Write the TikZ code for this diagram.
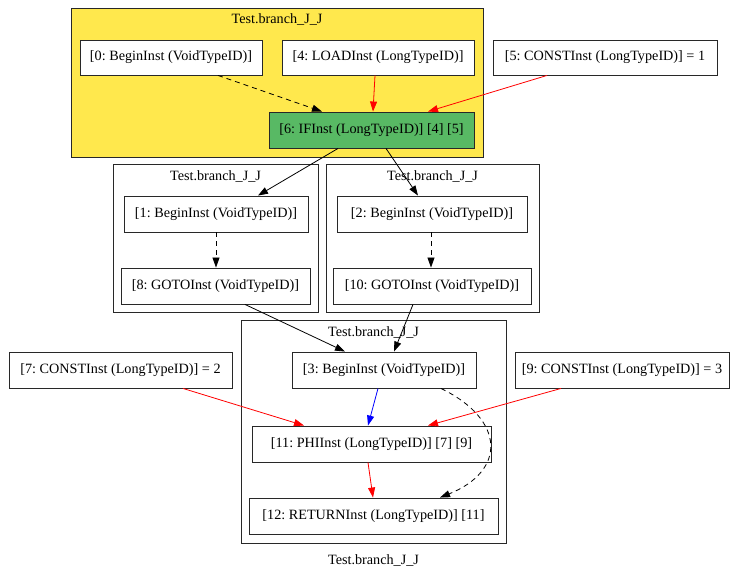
\documentclass[tikz,border=0pt]{standalone}
\usepackage{fontspec}
\setmainfont{Liberation Serif}
\frenchspacing
\usetikzlibrary{arrows.meta}
\definecolor{clyellow}{RGB}{255,232,77}
\definecolor{ifgreen}{RGB}{88,185,100}
\definecolor{edgered}{RGB}{255,0,0}
\definecolor{edgeblue}{RGB}{0,0,255}
\definecolor{bord}{RGB}{40,40,40}
\begin{document}
\begin{tikzpicture}[x=1pt,y=-1pt,
  inst/.style={draw=bord,line width=0.9pt,fill=white,minimum height=36pt,inner sep=0pt,
    font=\fontsize{14.2}{16}\selectfont\frenchspacing},
  clus/.style={draw=bord,line width=0.9pt},
  clabel/.style={font=\fontsize{14.2}{16}\selectfont,inner sep=0pt},
  arr/.style={line width=0.8pt,-{Triangle[length=10pt,width=7pt]}},
  dep/.style={arr,dashed,dash pattern=on 5pt off 4pt},
]
\useasboundingbox (0,0) rectangle (737,567);
% clusters
\draw[clus,fill=clyellow] (71,8) rectangle (483,157);
\node[clabel] (c1) at (277,19) {Test.branch\_J\_J};
\draw[clus] (113,164) rectangle (318,312);
\node[clabel] (c2) at (215.5,176) {Test.branch\_J\_J};
\draw[clus] (326,164) rectangle (539,312);
\node[clabel] (c3) at (432.5,176) {Test.branch\_J\_J};
\draw[clus] (241,320) rectangle (506,543);
\node[clabel] (c4) at (373.5,332) {Test.branch\_J\_J};
\node[clabel] (glabel) at (373.5,560) {Test.branch\_J\_J};
% nodes
\node[inst,minimum width=182pt,minimum height=35pt] (n0) at (171,57.5) {[0: BeginInst (VoidTypeID)]};
\node[inst,minimum width=192pt,minimum height=35pt] (n4) at (378,57.5) {[4: LOADInst (LongTypeID)]};
\node[inst,minimum width=224pt,minimum height=35pt] (n5) at (605,57.5) {[5: CONSTInst (LongTypeID)] = 1};
\node[inst,fill=ifgreen,minimum width=205pt] (n6) at (371.5,130) {[6: IFInst (LongTypeID)] [4] [5]};
\node[inst,minimum width=184pt] (n1) at (216,214) {[1: BeginInst (VoidTypeID)]};
\node[inst,minimum width=189pt] (n8) at (215.5,286) {[8: GOTOInst (VoidTypeID)]};
\node[inst,minimum width=190pt] (n2) at (432,214) {[2: BeginInst (VoidTypeID)]};
\node[inst,minimum width=198pt] (n10) at (432,286) {[10: GOTOInst (VoidTypeID)]};
\node[inst,minimum width=184pt] (n3) at (384,370) {[3: BeginInst (VoidTypeID)]};
\node[inst,minimum width=223pt] (n7) at (120.5,370) {[7: CONSTInst (LongTypeID)] = 2};
\node[inst,minimum width=214pt] (n9) at (622,370) {[9: CONSTInst (LongTypeID)] = 3};
\node[inst,minimum width=239pt] (n11) at (371.5,444) {[11: PHIInst (LongTypeID)] [7] [9]};
\node[inst,minimum width=249pt] (n12) at (373.5,516) {[12: RETURNInst (LongTypeID)] [11]};
% edges
\draw[dep] ([xshift=47pt]n0.south) -- ([xshift=-49.5pt]n6.north);
\draw[arr,edgered] ([xshift=-3pt]n4.south) -- ([xshift=1.5pt]n6.north);
\draw[arr,edgered] ([xshift=-58pt]n5.south) -- ([xshift=56.5pt]n6.north);
\draw[arr] ([xshift=-33.5pt]n6.south) -- ([xshift=42pt]n1.north);
\draw[arr] ([xshift=14.5pt]n6.south) -- ([xshift=-14pt]n2.north);
\draw[dep] (n1.south) -- ([xshift=0.5pt]n8.north);
\draw[dep] ([xshift=-1pt]n2.south) -- ([xshift=-1pt]n10.north);
\draw[arr] ([xshift=29.5pt]n8.south) -- ([xshift=-39pt]n3.north);
\draw[arr] ([xshift=-19pt]n10.south) -- ([xshift=10pt]n3.north);
\draw[arr,edgeblue] ([xshift=-6pt]n3.south) -- ([xshift=-3.5pt]n11.north);
\draw[arr,edgered] ([xshift=62.5pt]n7.south) -- ([xshift=-67.5pt]n11.north);
\draw[arr,edgered] ([xshift=-61pt]n9.south) -- ([xshift=56.5pt]n11.north);
\draw[arr,edgered] ([xshift=-3.5pt]n11.south) -- ([xshift=-0.5pt]n12.north);
\draw[dep] ([xshift=57pt]n3.south) .. controls (506,420) and (506,471) .. ([xshift=66.5pt]n12.north);
\end{tikzpicture}
\end{document}
